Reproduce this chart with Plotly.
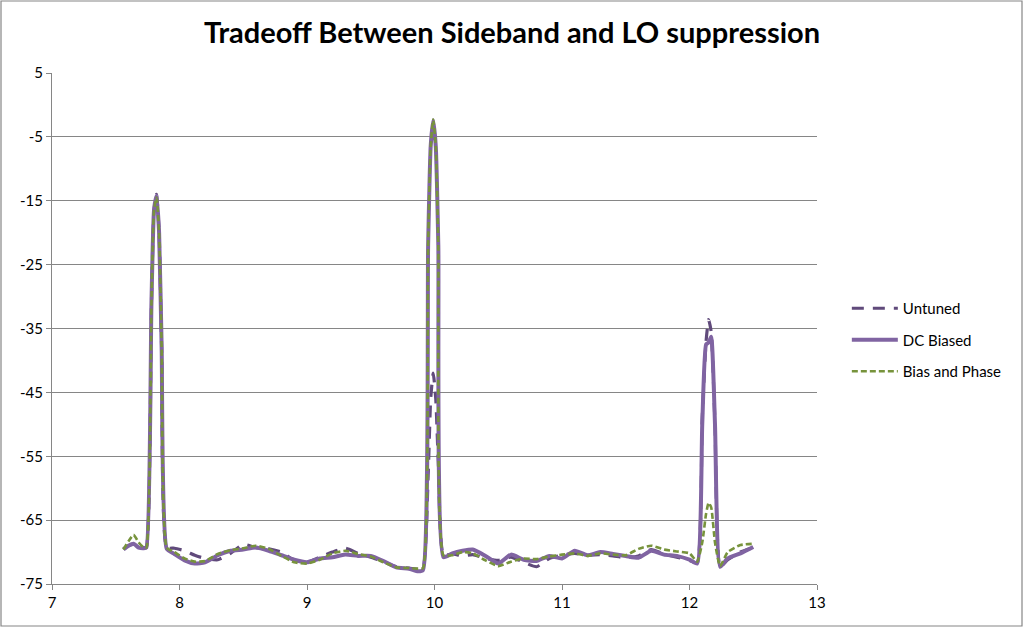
import plotly.graph_objects as go

# Frequency points (shared by all three series)
freq = [7.56, 7.60, 7.64, 7.68, 7.72, 7.74, 7.78, 7.80, 7.82, 7.84, 7.86, 7.90,
        7.96, 8.04, 8.12, 8.20, 8.30, 8.40, 8.50, 8.60, 8.70, 8.80, 8.90, 9.00,
        9.10, 9.20, 9.30, 9.40, 9.50, 9.60, 9.70, 9.80, 9.87,
        9.91, 9.95, 9.97, 9.99, 10.01, 10.03, 10.07,
        10.14, 10.22, 10.30, 10.40, 10.50, 10.60, 10.70, 10.80, 10.90, 11.00,
        11.10, 11.20, 11.30, 11.40, 11.50, 11.60, 11.70, 11.80, 11.90, 12.00,
        12.06, 12.10, 12.13, 12.15, 12.17, 12.20, 12.24,
        12.30, 12.40, 12.50]

untuned = [-69.5, -69.0, -68.8, -69.2, -69.3, -69.3, -31.0, -16.5, -14.0, -20.0, -38.0, -69.3,
           -69.4, -69.8, -70.5, -71.0, -71.2, -70.2, -68.8, -69.3, -69.5, -70.0, -71.3, -71.6,
           -70.8, -70.0, -69.4, -70.2, -70.8, -71.5, -72.3, -72.5, -72.7,
           -72.5, -58.0, -46.0, -42.0, -46.0, -56.0, -70.5,
           -70.3, -70.6, -70.4, -71.0, -71.3, -70.8, -71.6, -72.3, -71.0, -70.5,
           -70.2, -70.5, -70.4, -70.6, -70.9, -70.6, -69.6, -70.3, -70.8, -71.3,
           -71.7, -49.0, -37.0, -33.6, -35.5, -50.0, -72.3,
           -71.2, -70.0, -69.3]

dc_biased = [-69.6, -69.0, -68.7, -69.3, -69.4, -69.3, -31.0, -16.5, -14.2, -20.0, -38.0, -69.5,
             -70.3, -71.3, -71.8, -71.6, -70.5, -69.8, -69.6, -69.3, -69.8, -70.5, -71.2, -71.6,
             -71.0, -70.8, -70.4, -70.6, -70.6, -71.4, -72.4, -72.6, -73.0,
             -72.8, -22.0, -6.5, -2.4, -6.5, -22.0, -70.8,
             -70.2, -69.8, -69.6, -70.6, -71.8, -70.4, -71.2, -71.4, -70.6, -71.0,
             -69.8, -70.5, -70.0, -70.3, -70.6, -70.9, -69.8, -70.4, -70.6, -71.2,
             -71.8, -50.0, -37.5, -37.2, -36.3, -50.0, -72.3,
             -71.0, -70.2, -69.2]

bias_phase = [-69.6, -68.3, -67.3, -68.5, -69.3, -69.3, -31.0, -16.5, -14.5, -20.0, -38.0, -69.3,
              -70.0, -71.0, -71.5, -71.4, -70.3, -69.7, -69.4, -69.0, -69.5, -70.6, -71.6, -71.8,
              -71.2, -70.2, -69.8, -70.3, -70.7, -71.6, -72.4, -72.5, -72.6,
              -72.5, -22.0, -6.5, -2.3, -6.5, -22.0, -70.5,
              -70.5, -70.0, -70.2, -71.3, -72.2, -71.5, -71.0, -71.1, -70.7, -70.4,
              -70.2, -70.6, -70.2, -70.4, -70.5, -69.5, -69.0, -69.6, -69.9, -70.2,
              -71.5, -68.5, -64.0, -62.3, -63.0, -68.5, -72.2,
              -70.0, -68.9, -68.7]

y_ticks = [5, -5, -15, -25, -35, -45, -55, -65, -75]
y_tick_text = ['5', '-5', '-15', '-25', '-35', '-45', '-55', '-65', '-75']
x_ticks = [7, 8, 9, 10, 11, 12, 13]

W, H = 1024, 627
L, R, T, B = 52, 207, 73, 43
pw, ph = W - L - R, H - T - B

fig = go.Figure()

fig.add_trace(go.Scatter(x=freq, y=untuned, mode='lines', name='Untuned',
                         legendgroup='a',
                         line=dict(color='#604A7B', width=3.2, dash='12px,9px',
                                   shape='spline', smoothing=0.5)))
fig.add_trace(go.Scatter(x=freq, y=dc_biased, mode='lines', name='DC Biased',
                         legendgroup='b',
                         line=dict(color='#8064A2', width=4, shape='spline', smoothing=0.5)))
fig.add_trace(go.Scatter(x=freq, y=bias_phase, mode='lines', name='Bias and Phase',
                         legendgroup='c',
                         line=dict(color='#77933C', width=2.6, dash='6px,3px',
                                   shape='spline', smoothing=0.5)))

# outer chart border
fig.add_shape(type='rect', xref='paper', yref='paper',
              x0=(-L + 1) / pw, x1=1 + (R - 2) / pw,
              y0=(-B + 1) / ph, y1=1 + (T - 1) / ph,
              line=dict(color='#868686', width=1.2))

fig.update_layout(
    width=W, height=H,
    margin=dict(l=L, r=R, t=T, b=B),
    plot_bgcolor='white', paper_bgcolor='white',
    font=dict(family='Lato, Open Sans, sans-serif', size=15, color='black'),
    title=dict(text='<b>Tradeoff Between Sideband and LO suppression</b>',
               x=0.5, xref='container', xanchor='center', y=0.947, yanchor='middle',
               font=dict(size=29, family='Lato, Open Sans, sans-serif', color='black')),
    xaxis=dict(range=[7, 13], tickvals=x_ticks, showgrid=False, zeroline=False,
               showline=True, linecolor='#868686', linewidth=1,
               ticks='outside', ticklen=5, tickcolor='#868686'),
    yaxis=dict(range=[-75, 5], tickvals=y_ticks, ticktext=y_tick_text,
               showgrid=True, gridcolor='#868686', gridwidth=1, zeroline=False,
               showline=True, linecolor='#868686', linewidth=1,
               ticks='outside', ticklen=5, tickcolor='#868686'),
    legend=dict(x=1.039, xanchor='left', y=0.4775, yanchor='middle',
                traceorder='grouped', tracegroupgap=9, itemwidth=46,
                font=dict(size=15), bgcolor='rgba(0,0,0,0)'),
    showlegend=True,
)

# drop the browser's default page margin so the chart sits at the window corner
fig.write_html("out.html", config={'displayModeBar': False},
               post_script="document.body.style.margin='0';")
